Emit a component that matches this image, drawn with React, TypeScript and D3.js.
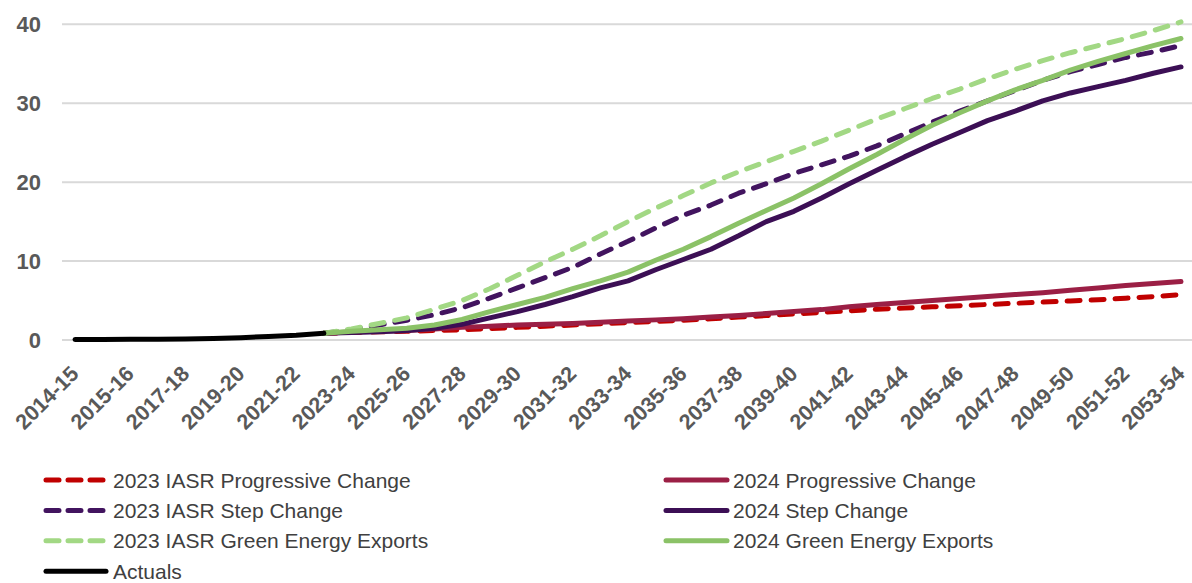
import React from "react";
import * as d3 from "d3";

// x-axis tick labels (shown at every second yearly step)
const tickLabels = [
  "2014-15", "2015-16", "2017-18", "2019-20", "2021-22", "2023-24", "2025-26",
  "2027-28", "2029-30", "2031-32", "2033-34", "2035-36", "2037-38", "2039-40",
  "2041-42", "2043-44", "2045-46", "2047-48", "2049-50", "2051-52", "2053-54",
];
const yTicks = [0, 10, 20, 30, 40];

// Actuals: yearly steps 0..9
const actualsStart = 0;
const actuals = [0.05, 0.06, 0.08, 0.1, 0.12, 0.18, 0.3, 0.45, 0.6, 0.85];

// Projections: yearly steps 9..40
const projStart = 9;
const iasr2023Progressive = [
  0.85, 0.95, 1.05, 1.1, 1.2, 1.3, 1.45, 1.6, 1.75, 1.9, 2.05, 2.2, 2.35, 2.5, 2.7, 2.9,
  3.1, 3.3, 3.5, 3.7, 3.9, 4.05, 4.2, 4.35, 4.5, 4.65, 4.8, 4.95, 5.1, 5.3, 5.5, 5.75,
];
const progressive2024 = [
  0.85, 1.0, 1.1, 1.2, 1.4, 1.6, 1.75, 1.9, 2.0, 2.1, 2.25, 2.4, 2.55, 2.7, 2.9, 3.1,
  3.35, 3.6, 3.85, 4.2, 4.5, 4.75, 5.0, 5.25, 5.5, 5.75, 6.0, 6.3, 6.6, 6.9, 7.15, 7.4,
];
const iasr2023Step = [
  0.85, 1.3, 1.9, 2.5, 3.2, 4.1, 5.3, 6.6, 7.9, 9.2, 10.9, 12.5, 14.2, 15.8, 17.1, 18.6,
  19.8, 21.1, 22.2, 23.3, 24.6, 26.1, 27.6, 29.0, 30.3, 31.6, 32.9, 34.0, 34.9, 35.8, 36.5, 37.3,
];
const step2024 = [
  0.85, 0.95, 1.05, 1.2, 1.5, 2.0, 2.8, 3.6, 4.5, 5.5, 6.6, 7.5, 8.9, 10.2, 11.5, 13.2,
  15.0, 16.3, 18.0, 19.8, 21.5, 23.2, 24.8, 26.3, 27.8, 29.0, 30.3, 31.3, 32.1, 32.9, 33.8, 34.6,
];
const iasr2023Green = [
  0.85, 1.4, 2.1, 2.8, 3.9, 5.0, 6.5, 8.2, 9.9, 11.5, 13.2, 15.0, 16.7, 18.3, 19.9, 21.3,
  22.6, 23.9, 25.2, 26.6, 28.0, 29.3, 30.6, 31.8, 33.1, 34.3, 35.4, 36.4, 37.3, 38.2, 39.2, 40.3,
];
const green2024 = [
  0.85, 1.1, 1.3, 1.5, 1.9, 2.6, 3.6, 4.5, 5.4, 6.5, 7.5, 8.6, 10.1, 11.5, 13.1, 14.8,
  16.4, 18.0, 19.8, 21.7, 23.5, 25.4, 27.2, 28.8, 30.3, 31.7, 32.9, 34.2, 35.3, 36.3, 37.3, 38.2,
];

type Series = { name: string; values: number[]; start: number; color: string; dashed: boolean };

// drawing order follows the Excel series order
const series: Series[] = [
  { name: "2023 IASR Progressive Change", values: iasr2023Progressive, start: projStart, color: "#c00000", dashed: true },
  { name: "2024 Progressive Change", values: progressive2024, start: projStart, color: "#9b1f45", dashed: false },
  { name: "2023 IASR Step Change", values: iasr2023Step, start: projStart, color: "#42145f", dashed: true },
  { name: "2024 Step Change", values: step2024, start: projStart, color: "#3c0f55", dashed: false },
  { name: "2023 IASR Green Energy Exports", values: iasr2023Green, start: projStart, color: "#a2d884", dashed: true },
  { name: "2024 Green Energy Exports", values: green2024, start: projStart, color: "#8bc267", dashed: false },
  { name: "Actuals", values: actuals, start: actualsStart, color: "#000000", dashed: false },
];

const legendLeft = [0, 2, 4, 6];
const legendRight = [1, 3, 5];

const W = 1192;
const H = 583;
const FONT = "'Liberation Sans', Arial, sans-serif";

export default function App() {
  const x = d3.scaleLinear().domain([0, 40]).range([75, 1181]);
  const y = d3.scaleLinear().domain([0, 40]).range([340, 24.3]);
  const line = d3
    .line<[number, number]>()
    .x((d) => x(d[0]))
    .y((d) => y(d[1]));

  const dash = "13 11";

  const legendRow = (i: number) => 480 + i * 30.4;

  return (
    <svg
      width={W}
      height={H}
      style={{ position: "absolute", left: 0, top: 0, background: "#fff" }}
      fontFamily={FONT}
    >
      {/* gridlines */}
      {yTicks.map((t) => (
        <line key={t} x1={62} x2={W} y1={y(t)} y2={y(t)} stroke="#d9d9d9" strokeWidth={2} />
      ))}
      {/* y tick labels */}
      {yTicks.map((t) => (
        <text
          key={"yl" + t}
          x={41}
          y={y(t) + 8}
          textAnchor="end"
          fontSize={22}
          fontWeight="bold"
          fill="#595959"
        >
          {t}
        </text>
      ))}
      {/* x tick labels */}
      {tickLabels.map((lab, i) => {
        const px = x(i * 2) + 5;
        const py = 375;
        return (
          <text
            key={lab}
            x={px}
            y={py}
            textAnchor="end"
            fontSize={21.5}
            fontWeight="bold"
            fill="#595959"
            transform={`rotate(-45 ${px} ${py})`}
          >
            {lab}
          </text>
        );
      })}
      {/* series */}
      {series.map((s) => {
        const pts: [number, number][] = s.values.map((v, i) => [s.start + i, v]);
        return (
          <path
            key={s.name}
            d={line(pts) || ""}
            fill="none"
            stroke={s.color}
            strokeWidth={5}
            strokeLinecap="round"
            strokeLinejoin="round"
            strokeDasharray={s.dashed ? dash : undefined}
          />
        );
      })}
      {/* legend */}
      {[
        { idx: legendLeft, x0: 46, x1: 106, tx: 113 },
        { idx: legendRight, x0: 666, x1: 727, tx: 733 },
      ].map((col, c) =>
        col.idx.map((si, r) => {
          const s = series[si];
          const yy = legendRow(r);
          return (
            <g key={"lg" + c + r}>
              <line
                x1={col.x0}
                x2={col.x1}
                y1={yy}
                y2={yy}
                stroke={s.color}
                strokeWidth={5}
                strokeLinecap="round"
                strokeDasharray={s.dashed ? "13 9" : undefined}
              />
              <text x={col.tx} y={yy + 7.5} fontSize={21} fill="#404040">
                {s.name}
              </text>
            </g>
          );
        })
      )}
    </svg>
  );
}
